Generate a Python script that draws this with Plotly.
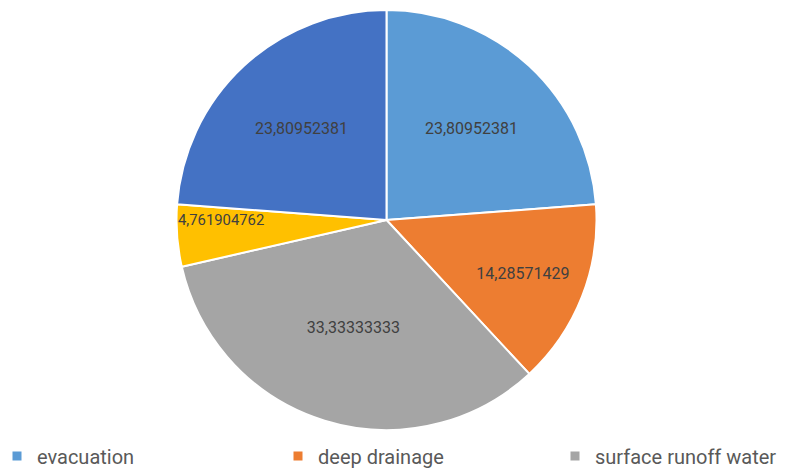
import plotly.graph_objects as go

labels = ["evacuation", "deep drainage", "surface runoff water", "series 4", "series 5"]
values = [23.80952381, 14.28571429, 33.33333333, 4.761904762, 23.80952381]
colors = ["#5B9BD5", "#ED7D31", "#A5A5A5", "#FFC000", "#4472C4"]
legend_labels = labels[:3]

text = [("%.10g" % v).replace(".", ",") for v in values]

W, H = 789, 468
OFF = 8          # page body margin offset of the plot div
ML = 20
PW = W - ML
cx, cy, r = 386.5 - OFF, 220 - OFF, 210
legend_px = [m - 31 for m in (20, 301, 578)]
legend_py = 456 - OFF

fig = go.Figure()
fig.add_trace(go.Pie(
    labels=labels, values=values, text=text, textinfo="text",
    sort=False, direction="clockwise", rotation=0,
    marker=dict(colors=colors, line=dict(color="white", width=2)),
    textposition="inside", insidetextorientation="horizontal",
    textfont=dict(family="Roboto", size=16, color="#404040"),
    showlegend=False, hoverinfo="label+value",
    domain=dict(x=[(cx - r - ML) / PW, (cx + r - ML) / PW], y=[(H - cy - r) / H, (H - cy + r) / H]),
))
legend_layout = {}
for i, (name, col) in enumerate(zip(legend_labels, colors)):
    key = "legend" if i == 0 else "legend%d" % (i + 1)
    fig.add_trace(go.Scatter(x=[None], y=[None], mode="markers", name=name, legend=key,
                             marker=dict(symbol="square", size=9, color=col)))
    legend_layout[key] = dict(
        x=(legend_px[i] - ML) / PW, xanchor="left", y=(H - legend_py) / H, yanchor="middle",
        orientation="h", bgcolor="rgba(0,0,0,0)",
        font=dict(family="Roboto", size=20, color="#595959"),
        itemsizing="trace")

fig.update_layout(
    width=W, height=H, margin=dict(l=ML, r=0, t=0, b=0, autoexpand=False),
    paper_bgcolor="white", plot_bgcolor="white",
    xaxis=dict(visible=False), yaxis=dict(visible=False),
    **legend_layout,
)
fig.write_html("out.html")
